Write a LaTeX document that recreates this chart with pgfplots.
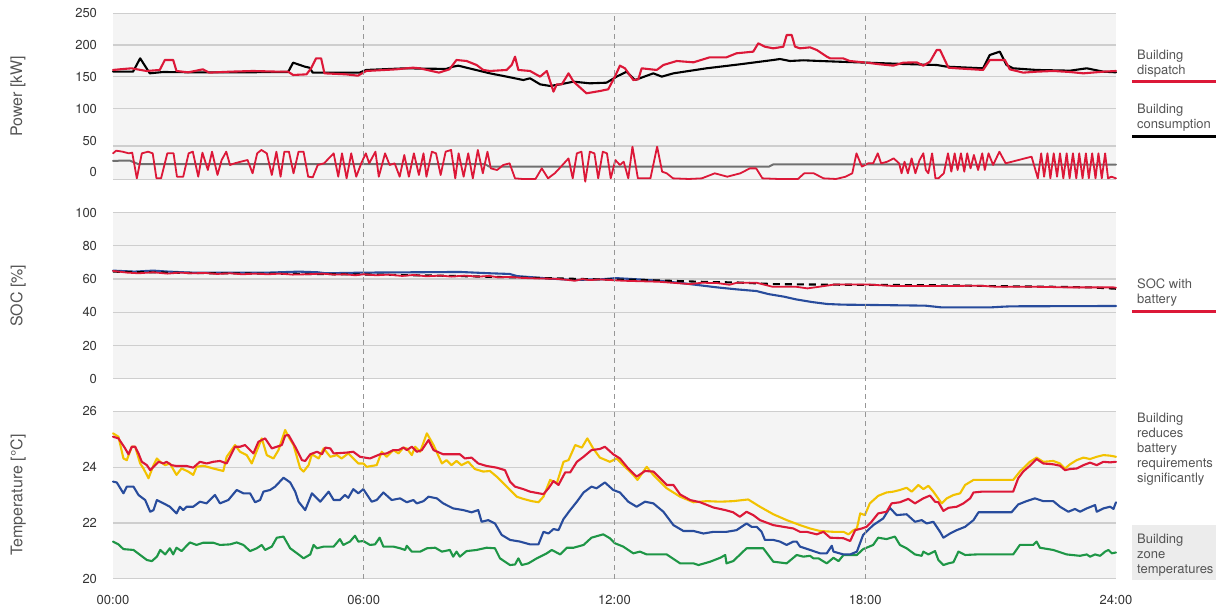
\documentclass[border=0pt]{standalone}
\usepackage{fontspec}
\setmainfont{TeX Gyre Heros}
\usepackage{pgfplots}
\pgfplotsset{compat=1.18}
\definecolor{cred}{RGB}{220,24,56}
\definecolor{cblue}{RGB}{40,76,156}
\definecolor{cyel}{RGB}{242,194,0}
\definecolor{cgreen}{RGB}{30,150,70}
\definecolor{cgray}{RGB}{112,112,112}
\definecolor{bgfill}{RGB}{244,244,244}
\definecolor{gridc}{RGB}{206,206,206}
\definecolor{txt}{RGB}{85,85,85}
\definecolor{dashc}{RGB}{150,150,150}
\definecolor{boxc}{RGB}{236,236,236}
\pgfplotsset{
 panel/.style={
  scale only axis, width=1003pt, xmin=0, xmax=24,
  axis line style={draw=none}, major tick length=0pt,
  axis background/.style={fill=bgfill},
  grid style={gridc, line width=1.2pt},
  xtick=\empty,
  yticklabel style={font=\fontsize{13}{15}\selectfont, text=black!80, xshift=-12.5pt},
  every axis y label/.style={at={(axis description cs:-0.0947,0.5)}, rotate=90, anchor=center, font=\fontsize{16}{18}\selectfont, text=txt},
  /pgf/number format/assume math mode=true,
  clip=false,
  every axis plot/.append style={line join=round, line cap=round, line width=2.1pt},
 },
}
\begin{document}
\begin{tikzpicture}
\path[use as bounding box] (0,0) rectangle (1216pt,-609pt);

% ---------------- Power ----------------
\begin{axis}[panel, at={(113pt,-179.3pt)}, anchor=south west, height=166pt,
  ymin=-11, ymax=250, ytick={0,50,100,150,200,250},
  ylabel={Power [kW]}]
\pgfplotsinvokeforeach{-11,41.3,100,150,200,250}{\draw[gridc, line width=1.2pt] (axis cs:0,#1) -- (axis cs:24,#1);}
\addplot[cgray, line width=2pt] coordinates {(0,18)(0.4,18.5)(0.6,13)(8.9,13)(9.0,9)(15.7,9)(15.8,12.5)(24,12)};
\addplot[cred, line width=1.8pt] coordinates {
(0,29.8)(0.077,34.0)(0.23,32.4)(0.38,29.8)(0.46,30.9)(0.57,-9.5)(0.69,29.8)(0.84,32.4)(0.95,29.8)(1.04,-9.5)(1.15,-9.5)(1.30,29.8)(1.45,29.8)(1.53,-6.9)(1.68,-6.9)(1.81,29.8)(1.91,32.4)(2.04,-6.9)(2.14,30.9)(2.27,3.6)(2.37,32.4)(2.50,-4.2)(2.60,19.3)(2.71,32.4)(2.80,11.5)(2.91,14.1)(3.06,16.7)(3.22,19.3)(3.34,-1.6)(3.45,29.8)(3.55,35.1)(3.68,29.8)(3.80,-4.2)(3.91,32.4)(4.01,-6.9)(4.10,32.4)(4.21,32.4)(4.32,-1.6)(4.44,32.4)(4.56,32.4)(4.67,-6.9)(4.78,-7.9)(4.90,11.5)(5.05,14.1)(5.28,29.8)(5.39,-6.9)(5.48,29.8)(5.59,-9.5)(5.70,29.8)(5.82,-6.9)(5.94,14.1)(6.05,29.8)(6.13,14.1)(6.28,32.4)(6.36,-6.9)(6.51,29.8)(6.62,11.5)(6.74,14.1)(6.86,-6.9)(6.97,27.2)(7.08,-6.9)(7.20,29.8)(7.32,-4.2)(7.43,29.8)(7.50,-6.9)(7.63,32.4)(7.73,29.8)(7.84,-4.2)(7.96,32.4)(8.09,35.1)(8.19,-9.5)(8.27,29.8)(8.39,-6.9)(8.50,29.8)(8.61,-9.5)(8.73,35.1)(8.85,-1.6)(8.96,32.4)(9.04,6.2)(9.19,3.6)(9.34,11.5)(9.49,14.1)(9.62,-9.5)(9.80,-10.5)(10.11,-10.5)(10.26,6.2)(10.41,-9.5)(10.57,-1.6)(10.72,8.9)(10.90,21.9)(11.00,-9.5)(11.10,29.8)(11.21,32.4)(11.30,-14.7)(11.41,32.4)(11.52,29.8)(11.61,-9.5)(11.72,32.4)(11.82,29.8)(11.91,-9.5)(12.02,19.3)(12.13,11.5)(12.22,16.7)(12.33,-9.5)(12.43,40.3)(12.56,-9.5)(12.71,-9.5)(12.86,-9.5)(13.02,40.3)(13.14,1.0)(13.25,-1.6)(13.40,-9.5)(13.78,-10.5)(14.09,-9.5)(14.40,-1.6)(14.70,-6.9)(15.01,-1.6)(15.24,6.2)(15.39,6.2)(15.54,-9.5)(15.93,-10.5)(16.39,-10.5)(16.54,-1.6)(16.77,-1.6)(17.00,-9.5)(17.30,-10.5)(17.53,-6.9)(17.69,-1.6)(17.79,29.8)(17.92,8.9)(18.07,14.1)(18.19,14.1)(18.30,29.8)(18.38,14.1)(18.53,16.7)(18.68,21.9)(18.81,14.1)(18.87,-1.6)(18.94,16.7)(19.02,-1.6)(19.11,21.9)(19.20,-1.6)(19.30,19.3)(19.39,29.8)(19.45,3.6)(19.51,-1.6)(19.60,29.8)(19.68,-9.5)(19.75,-9.5)(19.88,-1.6)(19.98,29.8)(20.06,1.0)(20.14,29.8)(20.21,3.6)(20.29,29.8)(20.37,1.0)(20.44,29.8)(20.52,6.2)(20.60,27.2)(20.70,3.6)(20.80,29.8)(20.86,3.6)(20.95,29.8)(21.06,11.5)(21.21,32.4)(21.36,14.1)(21.98,24.6)(22.13,-9.5)(22.21,29.8)(22.28,-6.9)(22.36,29.8)(22.43,-9.5)(22.51,29.8)(22.59,-6.9)(22.66,29.8)(22.74,-9.5)(22.82,29.8)(22.89,-9.5)(22.97,29.8)(23.05,-9.5)(23.12,29.8)(23.20,-9.5)(23.28,29.8)(23.35,-9.5)(23.43,29.8)(23.51,-9.5)(23.58,29.8)(23.66,-9.5)(23.74,29.8)(23.81,-9.5)(23.89,-6.9)(24.0,-9.5)};
\addplot[black] coordinates {
(0,158.2)(0.48,158.2)(0.65,179.2)(0.88,155.6)(1.2,157.7)(2,157.2)(3,157.2)(4.19,157.7)(4.31,172.4)(4.59,166.1)(4.70,164.5)(4.78,156.7)(5.0,156.7)(5.9,156.7)(6.06,160.9)(7.0,163.5)(7.97,162.5)(8.14,166.1)(8.26,167.7)(8.62,161.9)(9.02,155.6)(9.42,150.4)(9.82,145.1)(9.98,147.8)(10.22,138.3)(10.46,135.7)(10.7,138.3)(11.02,142.5)(11.41,139.9)(11.81,140.9)(12.05,150.4)(12.29,158.2)(12.49,145.1)(12.93,155.6)(13.13,150.4)(13.41,155.6)(14.2,163.5)(15.0,169.8)(15.8,176.6)(15.96,178.1)(16.2,175.0)(16.52,176.1)(16.92,175.0)(17.32,174.0)(18.03,172.4)(18.91,170.3)(19.71,168.7)(19.95,166.1)(20.82,163.5)(20.98,184.4)(21.22,189.7)(21.38,168.7)(21.54,163.5)(22.1,160.9)(22.9,159.8)(23.3,163.5)(23.7,158.2)(24.0,157.2)};
\addplot[cred] coordinates {
(0,160.9)(0.16,161.9)(0.44,163.5)(0.8,159.3)(1.12,160.9)(1.24,176.6)(1.44,176.6)(1.52,159.3)(1.8,157.2)(2.15,161.9)(2.3,156.7)(2.79,158.2)(3.35,159.3)(3.99,158.2)(4.19,158.2)(4.31,153.0)(4.63,154.0)(4.74,163.5)(4.86,179.2)(4.98,179.2)(5.06,155.6)(5.58,154.0)(5.86,151.9)(6.06,159.3)(6.78,161.9)(7.18,164.5)(7.34,163.5)(7.8,156.7)(8.05,161.9)(8.22,176.6)(8.46,175.0)(8.70,168.7)(8.86,160.9)(9.02,159.3)(9.42,160.9)(9.54,168.7)(9.62,181.8)(9.70,160.9)(9.98,159.3)(10.22,150.4)(10.38,159.3)(10.54,126.8)(10.62,138.3)(10.74,138.3)(10.90,155.6)(11.02,142.5)(11.33,124.2)(11.65,127.8)(11.85,130.5)(12.01,150.4)(12.13,167.7)(12.25,163.5)(12.45,145.1)(12.57,146.2)(12.65,163.5)(13.01,160.9)(13.17,168.7)(13.49,175.0)(13.89,172.9)(14.28,180.8)(14.68,180.8)(14.92,187.1)(15.32,189.7)(15.44,202.8)(15.60,197.5)(15.80,194.9)(16.04,197.5)(16.12,215.9)(16.24,215.9)(16.32,197.5)(16.44,194.9)(16.68,196.5)(16.84,192.3)(17.08,181.8)(17.16,179.2)(17.47,179.2)(17.63,175.0)(18.03,172.4)(18.35,169.8)(18.67,167.7)(18.91,172.4)(19.23,172.9)(19.39,167.7)(19.55,174.0)(19.71,192.3)(19.79,192.3)(19.99,164.5)(20.19,163.5)(20.82,160.9)(20.98,176.6)(21.34,176.6)(21.46,161.9)(21.78,156.7)(22.1,158.2)(22.5,159.3)(22.9,157.7)(23.22,155.6)(23.7,158.2)(24.0,159.3)};
\end{axis}

% ---------------- SOC ----------------
\begin{axis}[panel, at={(113pt,-378.7pt)}, anchor=south west, height=166pt,
  ymin=0, ymax=100, ytick={0,20,40,60,80,100}, ymajorgrids,
  ylabel={SOC [\%]}]
\addplot[cblue] coordinates {(0,65.1)(0.51,64.5)(0.96,65.1)(1.33,64.5)(1.88,63.9)(3.71,63.9)(4.45,64.5)(4.90,64.1)(5.09,63.5)(6.0,63.9)(8.30,64.3)(9.03,63.5)(9.49,63.1)(9.67,61.8)(10.41,60.4)(11.05,59.4)(11.42,59.8)(11.65,59.8)(12.03,60.6)(12.59,59.8)(13.06,59.0)(13.53,57.8)(14.0,56.4)(14.46,55.0)(14.93,53.8)(15.40,52.8)(15.68,51.0)(16.06,49.4)(16.34,47.8)(16.72,46.2)(17.09,45.0)(17.47,44.6)(18.22,44.4)(19.44,44.0)(19.81,43.0)(21.03,43.0)(21.31,43.4)(21.5,43.6)(24,43.8)};
\addplot[black, dash pattern=on 7pt off 5pt, line cap=butt] coordinates {(0,64.5)(2,63.6)(4,63.2)(6,62.8)(8,62.0)(10,60.8)(11.65,59.8)(12.5,59.6)(13.3,59.0)(14.3,58.2)(14.9,58.0)(15.8,57.0)(16.5,56.8)(17.5,56.6)(19.0,56.4)(20.1,56.2)(21.0,55.8)(22.4,55.4)(23.4,55.0)(24,54.2)};
\addplot[cred, line width=1.8pt] coordinates {(0,64.9)(0.34,63.9)(0.61,63.5)(0.96,64.1)(1.3,63.3)(1.6,63.9)(1.88,63.5)(2.2,63.7)(2.5,63.1)(2.8,63.5)(3.1,62.9)(3.4,63.3)(3.71,62.9)(4.0,63.3)(4.3,62.7)(4.63,62.9)(5.0,63.3)(5.3,62.7)(5.55,62.9)(5.8,62.3)(6.0,62.9)(6.3,62.3)(6.6,62.7)(6.92,61.9)(7.2,62.5)(7.5,61.7)(7.84,62.1)(8.1,61.5)(8.4,62.1)(8.75,61.5)(9.0,61.9)(9.21,61.1)(9.5,61.3)(9.8,60.7)(10.12,60.4)(10.58,60.2)(10.85,59.6)(11.05,59.0)(11.23,60.0)(11.4,59.4)(11.65,59.8)(12.21,59.0)(13.06,58.4)(13.81,57.0)(14.09,57.8)(14.46,57.6)(14.75,56.6)(14.93,57.8)(15.40,57.8)(15.78,55.4)(16.34,55.4)(16.62,54.4)(16.9,55.4)(17.28,56.8)(18.03,56.8)(18.69,55.8)(19.62,55.8)(20.75,56.0)(21.12,55.4)(21.97,55.4)(22.91,55.0)(23.94,55.0)(24,54.8)};
\end{axis}

% ---------------- Temperature ----------------
\begin{axis}[panel, at={(113pt,-578.7pt)}, anchor=south west, height=167.4pt,
  ymin=20, ymax=26, ytick={20,22,24,26}, ymajorgrids,
  xtick={0,6,12,18,24}, xticklabels={00:00,06:00,12:00,18:00,24:00},
  xticklabel style={font=\fontsize{13}{15}\selectfont, text=black!80, yshift=-13pt},
  ylabel={Temperature [°C]}]
\addplot[cgreen] coordinates {(0,21.33)(0.13,21.23)(0.25,21.06)(0.49,21.03)(0.65,20.85)(0.81,20.67)(0.93,20.63)(1.05,20.79)(1.13,21.03)(1.25,20.87)(1.36,21.09)(1.44,20.87)(1.52,21.11)(1.64,20.99)(1.84,21.30)(2.00,21.21)(2.16,21.29)(2.40,21.29)(2.56,21.21)(2.80,21.23)(2.96,21.30)(3.12,21.21)(3.28,20.99)(3.44,21.09)(3.56,21.21)(3.64,21.03)(3.80,21.15)(3.92,21.47)(4.08,21.51)(4.24,21.09)(4.44,20.87)(4.56,20.73)(4.72,20.87)(4.80,21.21)(4.88,21.09)(5.04,21.15)(5.28,21.15)(5.43,21.42)(5.51,21.21)(5.67,21.33)(5.79,21.54)(5.87,21.33)(5.99,21.35)(6.15,21.21)(6.27,21.23)(6.38,21.47)(6.47,21.15)(6.71,21.15)(6.87,21.09)(6.99,21.03)(7.03,21.18)(7.15,20.97)(7.35,20.97)(7.51,21.09)(7.71,21.11)(7.87,20.97)(8.06,21.03)(8.14,20.79)(8.22,20.97)(8.30,20.79)(8.46,20.99)(8.70,21.03)(8.94,21.11)(9.14,21.09)(9.26,20.73)(9.50,20.49)(9.62,20.51)(9.70,20.73)(9.78,20.49)(9.94,20.55)(10.14,20.73)(10.38,20.91)(10.50,21.03)(10.70,20.87)(10.86,21.11)(11.02,21.11)(11.26,21.21)(11.45,21.47)(11.73,21.59)(11.89,21.45)(12.01,21.27)(12.21,21.15)(12.45,20.91)(12.61,20.97)(12.77,20.87)(13.25,20.87)(13.57,20.55)(13.89,20.55)(14.01,20.49)(14.29,20.61)(14.53,20.75)(14.65,20.85)(14.68,20.55)(14.84,20.63)(15.16,21.09)(15.56,21.09)(15.80,20.61)(16.12,20.55)(16.36,20.85)(16.52,20.79)(16.68,20.82)(16.76,20.73)(16.88,20.73)(17.08,20.55)(17.24,20.75)(17.36,20.63)(17.48,20.85)(17.80,20.85)(17.95,21.06)(18.19,21.21)(18.31,21.47)(18.51,21.42)(18.71,21.51)(18.83,21.21)(18.99,21.09)(19.19,20.87)(19.35,20.82)(19.39,20.97)(19.51,20.87)(19.67,20.99)(19.75,20.67)(19.87,20.49)(19.99,20.55)(20.11,20.59)(20.23,20.97)(20.39,20.85)(20.67,20.87)(21.54,20.87)(21.70,21.21)(22.02,21.21)(22.10,21.33)(22.18,21.11)(22.50,21.03)(22.82,20.87)(23.14,20.82)(23.30,20.87)(23.38,20.79)(23.50,20.87)(23.62,20.82)(23.74,20.97)(23.82,21.03)(23.90,20.91)(24.00,20.94)};
\addplot[cblue] coordinates {(0,23.48)(0.09,23.45)(0.25,23.06)(0.33,23.30)(0.49,23.30)(0.61,23.00)(0.77,22.82)(0.89,22.40)(0.97,22.46)(1.05,22.82)(1.21,22.70)(1.36,22.58)(1.52,22.34)(1.60,22.58)(1.68,22.46)(1.76,22.58)(1.92,22.58)(2.08,22.76)(2.24,22.70)(2.44,23.00)(2.56,22.70)(2.76,22.82)(2.96,23.18)(3.12,23.06)(3.28,23.06)(3.40,22.74)(3.52,22.82)(3.60,23.12)(3.76,23.18)(3.88,23.30)(4.08,23.62)(4.24,23.45)(4.36,23.12)(4.44,22.76)(4.60,22.46)(4.76,23.06)(4.96,22.76)(5.16,23.12)(5.28,22.82)(5.43,22.82)(5.55,23.00)(5.63,22.90)(5.75,23.21)(5.87,23.06)(5.99,23.21)(6.19,22.76)(6.31,22.82)(6.47,23.09)(6.67,22.82)(6.87,22.88)(7.03,22.74)(7.19,22.82)(7.27,22.70)(7.43,22.78)(7.55,22.94)(7.75,22.88)(7.90,22.70)(8.14,22.52)(8.38,22.46)(8.58,22.38)(8.74,22.46)(8.82,22.04)(8.98,22.10)(9.14,21.98)(9.30,21.57)(9.50,21.39)(9.74,21.33)(9.98,21.23)(10.18,21.23)(10.30,21.68)(10.42,21.62)(10.54,21.78)(10.66,21.74)(10.78,22.14)(10.94,22.46)(11.10,22.76)(11.26,23.09)(11.45,23.30)(11.57,23.24)(11.77,23.45)(11.97,23.18)(12.13,23.09)(12.33,22.76)(12.53,22.58)(12.73,22.76)(12.93,22.70)(13.17,22.40)(13.41,21.92)(13.65,21.71)(13.89,21.71)(14.13,21.62)(14.37,21.68)(14.68,21.68)(14.92,21.74)(15.16,21.98)(15.28,21.86)(15.40,21.86)(15.52,21.68)(15.60,21.39)(15.80,21.39)(15.96,21.33)(16.12,21.21)(16.28,21.33)(16.36,21.33)(16.44,21.15)(16.68,21.03)(16.92,20.91)(17.08,20.91)(17.20,21.18)(17.24,20.97)(17.48,20.87)(17.64,20.87)(17.80,20.97)(17.95,21.57)(18.19,21.92)(18.43,22.16)(18.59,22.54)(18.75,22.28)(18.99,22.31)(19.19,22.04)(19.35,22.10)(19.47,21.98)(19.63,22.04)(19.79,21.68)(19.87,21.47)(20.03,21.62)(20.19,21.74)(20.39,21.86)(20.59,22.10)(20.71,22.38)(21.07,22.38)(21.50,22.38)(21.66,22.66)(21.86,22.78)(22.06,22.88)(22.26,22.78)(22.50,22.78)(22.66,22.58)(22.86,22.40)(23.02,22.50)(23.14,22.40)(23.30,22.52)(23.50,22.64)(23.54,22.40)(23.70,22.52)(23.86,22.58)(23.94,22.50)(24.00,22.74)};
\addplot[cyel] coordinates {(0,25.21)(0.13,25.09)(0.25,24.31)(0.33,24.25)(0.45,24.73)(0.53,24.73)(0.65,24.13)(0.73,23.95)(0.85,23.60)(0.97,24.07)(1.05,24.31)(1.13,24.19)(1.25,24.07)(1.36,24.13)(1.52,23.72)(1.64,23.95)(1.80,23.84)(1.92,23.72)(2.00,24.01)(2.16,24.05)(2.40,23.95)(2.64,23.86)(2.72,24.37)(2.92,24.79)(3.04,24.55)(3.20,24.43)(3.32,24.13)(3.56,25.03)(3.68,24.43)(3.84,24.31)(3.96,24.61)(4.12,25.33)(4.20,25.09)(4.32,24.79)(4.48,23.95)(4.56,23.84)(4.68,24.07)(4.76,24.46)(4.92,24.31)(5.04,24.67)(5.20,24.37)(5.36,24.43)(5.47,24.31)(5.63,24.49)(5.75,24.31)(5.87,24.13)(5.99,24.13)(6.07,24.01)(6.31,24.07)(6.43,24.55)(6.55,24.37)(6.71,24.61)(6.83,24.49)(6.95,24.70)(7.03,24.67)(7.15,24.43)(7.23,24.73)(7.35,24.55)(7.51,25.21)(7.67,24.79)(7.87,24.13)(7.98,24.25)(8.10,24.07)(8.22,24.22)(8.34,24.07)(8.50,24.19)(8.66,23.93)(8.86,23.84)(9.02,23.86)(9.18,23.66)(9.42,23.30)(9.66,22.94)(9.82,22.86)(10.02,22.78)(10.18,22.74)(10.30,22.94)(10.46,23.54)(10.62,23.42)(10.78,24.19)(10.90,24.25)(11.06,24.79)(11.22,24.70)(11.35,25.03)(11.49,24.67)(11.65,24.34)(11.89,24.19)(12.05,24.31)(12.21,24.07)(12.45,23.72)(12.55,23.54)(12.77,24.01)(12.93,23.72)(13.25,23.24)(13.57,22.94)(13.89,22.74)(14.21,22.78)(14.53,22.76)(14.84,22.78)(15.20,22.84)(15.48,22.58)(15.80,22.31)(16.12,22.10)(16.44,21.92)(16.68,21.80)(16.92,21.71)(17.24,21.68)(17.48,21.68)(17.60,21.59)(17.72,21.74)(17.80,21.80)(17.88,22.34)(17.99,22.28)(18.11,22.70)(18.31,22.97)(18.51,23.09)(18.67,23.12)(18.83,23.18)(18.99,23.26)(19.11,23.12)(19.27,23.36)(19.39,23.21)(19.51,23.33)(19.63,23.12)(19.83,22.70)(19.95,22.88)(20.11,23.00)(20.27,23.06)(20.39,23.36)(20.59,23.54)(21.54,23.54)(21.70,23.84)(21.94,24.19)(22.10,24.34)(22.26,24.19)(22.50,24.22)(22.66,24.13)(22.78,23.95)(22.90,24.10)(23.06,24.25)(23.22,24.34)(23.38,24.29)(23.54,24.37)(23.70,24.43)(23.86,24.41)(24.00,24.37)};
\addplot[cred] coordinates {(0,25.09)(0.13,25.03)(0.29,24.67)(0.37,24.46)(0.45,24.73)(0.53,24.73)(0.61,24.49)(0.69,24.19)(0.81,24.07)(0.89,23.89)(0.97,24.01)(1.09,24.19)(1.21,24.13)(1.28,24.19)(1.40,24.07)(1.52,24.04)(1.76,24.04)(1.92,23.98)(2.08,24.19)(2.24,24.13)(2.40,24.19)(2.56,24.22)(2.72,24.13)(2.92,24.73)(3.04,24.73)(3.16,24.79)(3.36,24.49)(3.48,24.91)(3.64,25.03)(3.80,24.67)(3.92,24.73)(4.04,24.79)(4.12,25.13)(4.20,25.15)(4.36,24.73)(4.52,24.25)(4.60,24.22)(4.72,24.46)(4.88,24.55)(5.00,24.46)(5.08,24.70)(5.20,24.67)(5.28,24.49)(5.59,24.52)(5.75,24.55)(5.91,24.37)(6.15,24.31)(6.39,24.46)(6.55,24.49)(6.71,24.61)(6.83,24.61)(6.95,24.70)(7.03,24.61)(7.15,24.73)(7.27,24.55)(7.39,24.61)(7.55,24.97)(7.67,24.61)(7.90,24.46)(8.06,24.46)(8.30,24.46)(8.42,24.31)(8.58,24.34)(8.74,24.13)(8.94,24.04)(9.18,23.98)(9.38,23.89)(9.50,23.48)(9.62,23.30)(9.82,23.21)(9.98,23.12)(10.30,23.03)(10.42,23.24)(10.54,23.50)(10.66,23.36)(10.82,23.81)(10.94,23.81)(11.10,24.19)(11.26,24.37)(11.45,24.61)(11.65,24.65)(11.77,24.73)(11.97,24.46)(12.13,24.31)(12.33,23.95)(12.53,23.66)(12.73,23.86)(12.93,23.84)(13.09,23.60)(13.25,23.36)(13.41,23.36)(13.57,23.02)(13.81,22.82)(14.05,22.74)(14.37,22.55)(14.65,22.46)(14.84,22.38)(15.00,22.22)(15.16,22.40)(15.32,22.28)(15.48,22.10)(15.80,21.92)(16.04,21.86)(16.28,21.80)(16.44,21.68)(16.60,21.68)(16.84,21.59)(17.00,21.68)(17.16,21.47)(17.48,21.45)(17.64,21.35)(17.76,21.74)(17.92,21.80)(18.03,21.86)(18.15,22.04)(18.31,22.34)(18.51,22.40)(18.63,22.70)(18.83,22.74)(19.03,22.86)(19.19,22.70)(19.39,22.88)(19.55,22.98)(19.67,22.76)(19.75,22.74)(19.87,22.43)(19.99,22.54)(20.19,22.58)(20.35,22.70)(20.51,22.88)(20.59,23.09)(20.79,23.12)(21.07,23.12)(21.27,23.12)(21.54,23.12)(21.66,23.60)(21.78,23.84)(21.94,24.05)(22.10,24.29)(22.26,24.13)(22.50,24.10)(22.66,24.05)(22.78,23.89)(22.90,23.93)(23.06,23.95)(23.22,24.07)(23.38,24.16)(23.54,24.07)(23.70,24.19)(23.86,24.17)(24.00,24.19)};
\pgfplotsinvokeforeach{6,12,18}{\draw[dashc, line width=1.1pt, dash pattern=on 5pt off 4pt] (axis cs:#1,20) -- ++(0pt,565.4pt);}
\end{axis}

% ---------------- right annotations ----------------
\begin{scope}[every node/.style={font=\fontsize{13}{15}\selectfont, text=txt, inner sep=0pt, anchor=north west, align=left}]
\fill[boxc] (1132pt,-525pt) rectangle (1216pt,-580pt);
\node at (1137pt,-50pt) {Building\\dispatch};
\draw[cred, line width=3pt] (1132pt,-81.7pt) -- (1216pt,-81.7pt);
\node at (1137pt,-104pt) {Building\\consumption};
\draw[black, line width=3pt] (1132pt,-136.7pt) -- (1216pt,-136.7pt);
\node at (1137pt,-278.3pt) {SOC with\\battery};
\draw[cred, line width=3pt] (1132pt,-311.7pt) -- (1216pt,-311.7pt);
\node at (1137pt,-413.3pt) {Building\\reduces\\battery\\requirements\\significantly};
\node at (1137pt,-534.3pt) {Building\\zone\\temperatures};
\end{scope}
\end{tikzpicture}
\end{document}
